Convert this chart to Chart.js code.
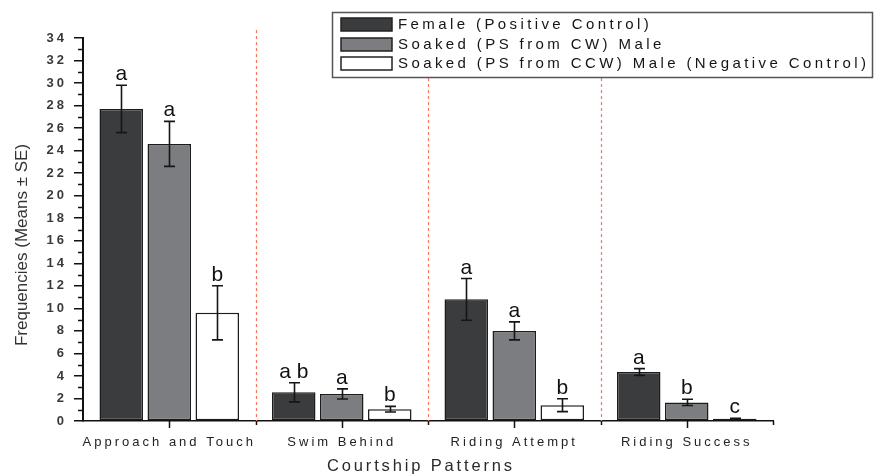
<!DOCTYPE html>
<html>
<head>
<meta charset="utf-8">
<script src="https://cdn.jsdelivr.net/npm/chart.js@4/dist/chart.umd.min.js"></script>
<style>
  html, body { margin: 0; padding: 0; background: #ffffff; }
  canvas { display: block; }
</style>
</head>
<body>
<canvas id="chart" width="879" height="475"></canvas>
<script>
// Courtship behaviour frequencies (means ± SE) per stimulus group
const categories = ['Approach and Touch', 'Swim Behind', 'Riding Attempt', 'Riding Success'];

const seriesNames = [
  'Female (Positive Control)',
  'Soaked (PS from CW) Male',
  'Soaked (PS from CCW) Male (Negative Control)'
];

const femaleMeans = [27.7, 2.55, 10.8, 4.35];
const femaleSE    = [2.1, 0.85, 1.85, 0.3];

const cwMaleMeans = [24.6, 2.4, 8.0, 1.65];
const cwMaleSE    = [2.0, 0.45, 0.8, 0.28];

const ccwMaleMeans = [9.6, 1.05, 1.4, 0.2];
const ccwMaleSE    = [2.4, 0.25, 0.57, 0.05];

// significance groups printed above each bar
const femaleLetters = ['a', 'a b', 'a', 'a'];
const cwMaleLetters = ['a', 'a', 'a', 'b'];
const ccwMaleLetters = ['b', 'b', 'b', 'c'];

const yTickValues = [0, 2, 4, 6, 8, 10, 12, 14, 16, 18, 20, 22, 24, 26, 28, 30, 32, 34];

const FONT = '"Liberation Sans", Arial, Helvetica, sans-serif';
const seriesFill = ['#3b3c3e', '#7c7d80', '#ffffff'];
const seriesSE = [femaleSE, cwMaleSE, ccwMaleSE];
const seriesLetters = [femaleLetters, cwMaleLetters, ccwMaleLetters];

const decorations = {
  id: 'decorations',
  beforeDraw(chart) {
    chart.ctx.letterSpacing = '3px';
  },
  beforeDatasetsDraw(chart) {
    const { ctx, chartArea, scales: { x } } = chart;
    const half = (x.getPixelForValue(1) - x.getPixelForValue(0)) / 2;
    ctx.save();
    ctx.strokeStyle = '#f07a64';
    ctx.lineWidth = 1.2;
    ctx.setLineDash([3, 3]);
    for (let i = 0; i < categories.length; i++) {
      const bx = Math.round(x.getPixelForValue(i) + half) + 0.5;
      if (bx >= chartArea.right - 1) continue;
      ctx.beginPath();
      ctx.moveTo(bx, 30);
      ctx.lineTo(bx, chartArea.bottom);
      ctx.stroke();
    }
    ctx.restore();
  },
  afterDatasetsDraw(chart) {
    const { ctx, scales: { y } } = chart;
    ctx.save();
    ctx.letterSpacing = '0px';
    chart.data.datasets.forEach((ds, di) => {
      const meta = chart.getDatasetMeta(di);
      meta.data.forEach((bar, i) => {
        const mean = ds.data[i];
        const se = seriesSE[di][i];
        const yTop = y.getPixelForValue(mean + se);
        const yBot = y.getPixelForValue(Math.max(0, mean - se));
        const bx = Math.round(bar.x) + 0.5;
        ctx.strokeStyle = '#161616';
        ctx.lineWidth = 1.6;
        ctx.beginPath();
        ctx.moveTo(bx, yTop);
        ctx.lineTo(bx, yBot);
        ctx.moveTo(bx - 5.5, yTop);
        ctx.lineTo(bx + 5.5, yTop);
        ctx.moveTo(bx - 5.5, yBot);
        ctx.lineTo(bx + 5.5, yBot);
        ctx.stroke();
        ctx.fillStyle = '#111111';
        ctx.font = `21px ${FONT}`;
        ctx.textAlign = 'center';
        ctx.textBaseline = 'alphabetic';
        ctx.fillText(seriesLetters[di][i], bar.x, yTop - 5);
      });
    });
    ctx.restore();
  },
  afterDraw(chart) {
    const { ctx, chartArea, scales: { x, y } } = chart;
    const half = (x.getPixelForValue(1) - x.getPixelForValue(0)) / 2;
    ctx.save();
    ctx.strokeStyle = '#111111';
    ctx.lineWidth = 1.5;
    ctx.beginPath();
    // minor ticks on the value axis
    for (let v = 1; v < 34; v += 2) {
      const py = Math.round(y.getPixelForValue(v)) + 0.5;
      ctx.moveTo(chartArea.left - 5, py);
      ctx.lineTo(chartArea.left, py);
    }
    // category centre ticks and group boundary ticks
    for (let i = 0; i < categories.length; i++) {
      const cx = Math.round(x.getPixelForValue(i)) + 0.5;
      ctx.moveTo(cx, chartArea.bottom);
      ctx.lineTo(cx, chartArea.bottom + 7);
      const bx = Math.round(x.getPixelForValue(i) + half) + 0.5;
      ctx.moveTo(bx, chartArea.bottom);
      ctx.lineTo(bx, chartArea.bottom + 4);
    }
    ctx.stroke();

    // axis titles
    ctx.fillStyle = '#2a2a2a';
    ctx.letterSpacing = '2.85px';
    ctx.font = `16.5px ${FONT}`;
    ctx.textAlign = 'center';
    ctx.textBaseline = 'alphabetic';
    ctx.fillText('Courtship Patterns', 421, 471);

    ctx.letterSpacing = '0px';
    ctx.save();
    ctx.translate(22, 245);
    ctx.rotate(-Math.PI / 2);
    ctx.font = `17px ${FONT}`;
    ctx.fillStyle = '#333333';
    ctx.textBaseline = 'middle';
    ctx.fillText('Frequencies (Means \u00B1 SE)', 0, 0);
    ctx.restore();

    // legend box
    const box = { left: 332, top: 12, right: 872, bottom: 77 };
    ctx.fillStyle = '#ffffff';
    ctx.fillRect(box.left, box.top, box.right - box.left, box.bottom - box.top);
    ctx.strokeStyle = '#555555';
    ctx.lineWidth = 1.5;
    ctx.strokeRect(box.left + 0.5, box.top + 0.5, box.right - box.left, box.bottom - box.top);
    const rows = [24, 44, 63];
    ctx.font = `15px ${FONT}`;
    ctx.letterSpacing = '3.4px';
    ctx.textAlign = 'left';
    ctx.textBaseline = 'middle';
    seriesNames.forEach((name, i) => {
      ctx.fillStyle = seriesFill[i];
      ctx.fillRect(341, rows[i] - 6, 51, 13);
      ctx.strokeStyle = '#222222';
      ctx.lineWidth = 1.5;
      ctx.strokeRect(341, rows[i] - 6, 51, 13);
      ctx.fillStyle = '#151515';
      ctx.fillText(name, 398, rows[i] + 1);
    });
    ctx.restore();
  }
};

new Chart(document.getElementById('chart'), {
  type: 'bar',
  data: {
    labels: categories,
    datasets: [
      { label: seriesNames[0], data: femaleMeans, backgroundColor: seriesFill[0] },
      { label: seriesNames[1], data: cwMaleMeans, backgroundColor: seriesFill[1] },
      { label: seriesNames[2], data: ccwMaleMeans, backgroundColor: seriesFill[2] }
    ]
  },
  options: {
    responsive: false,
    animation: false,
    devicePixelRatio: 1,
    layout: { padding: { top: 38, right: 106, bottom: 0, left: 0 } },
    datasets: {
      bar: {
        categoryPercentage: 0.835,
        barPercentage: 0.906,
        borderColor: '#1c1c1c',
        borderWidth: 1.5,
        borderSkipped: false
      }
    },
    plugins: {
      legend: { display: false },
      tooltip: { enabled: false }
    },
    scales: {
      x: {
        afterFit(scale) { scale.height = 54; },
        grid: { display: false, drawTicks: false },
        border: { display: true, color: '#111111', width: 1.5 },
        ticks: {
          maxRotation: 0,
          autoSkip: false,
          padding: 14,
          color: '#222222',
          font: { family: FONT, size: 13 }
        }
      },
      y: {
        min: 0,
        max: 34,
        afterFit(scale) { scale.width = 83; },
        afterBuildTicks(scale) { scale.ticks = yTickValues.map(v => ({ value: v })); },
        grid: { drawOnChartArea: false, drawTicks: true, tickLength: 9, color: '#111111', lineWidth: 1.5 },
        border: { display: true, color: '#111111', width: 2 },
        ticks: {
          padding: 7,
          color: '#3a3a3a',
          font: { family: FONT, size: 13, weight: 'bold' }
        }
      }
    }
  },
  plugins: [decorations]
});
</script>
</body>
</html>
